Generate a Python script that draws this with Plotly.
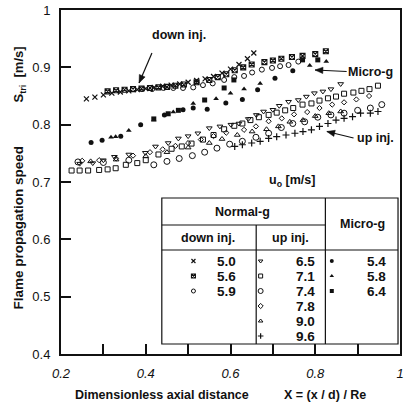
import math
import plotly.graph_objects as go

# ---------------- data ----------------
down_50_x = [0.26, 0.28, 0.30, 0.32, 0.34, 0.36, 0.38, 0.40, 0.42, 0.44, 0.46, 0.48, 0.50, 0.52, 0.54, 0.56, 0.58, 0.60, 0.62, 0.64, 0.655]
down_50_y = [0.845, 0.848, 0.852, 0.855, 0.857, 0.859, 0.861, 0.863, 0.865, 0.867, 0.869, 0.871, 0.874, 0.877, 0.880, 0.884, 0.890, 0.897, 0.905, 0.915, 0.925]

down_56_x = [0.31, 0.33, 0.35, 0.37, 0.39, 0.41, 0.43, 0.45, 0.47, 0.49, 0.52, 0.55, 0.57, 0.59, 0.61, 0.63, 0.65, 0.68, 0.70, 0.72, 0.745, 0.77, 0.80, 0.825]
down_56_y = [0.858, 0.860, 0.861, 0.862, 0.863, 0.864, 0.865, 0.866, 0.868, 0.870, 0.874, 0.878, 0.883, 0.888, 0.895, 0.900, 0.905, 0.909, 0.912, 0.915, 0.918, 0.920, 0.923, 0.928]

down_59_x = [0.391, 0.415, 0.442, 0.465, 0.488, 0.512, 0.535, 0.558, 0.585, 0.609, 0.632, 0.651, 0.674, 0.698, 0.717, 0.737, 0.760]
down_59_y = [0.862, 0.862, 0.864, 0.864, 0.864, 0.865, 0.869, 0.872, 0.878, 0.883, 0.885, 0.891, 0.896, 0.899, 0.902, 0.904, 0.910]

up_65_x = [0.244, 0.275, 0.300, 0.326, 0.360, 0.399, 0.423, 0.453, 0.477, 0.500, 0.523, 0.550, 0.575, 0.601, 0.620, 0.642, 0.661, 0.678, 0.700, 0.715, 0.737, 0.760, 0.779, 0.798, 0.818, 0.837, 0.860]
up_65_y = [0.732, 0.733, 0.738, 0.744, 0.748, 0.751, 0.762, 0.768, 0.776, 0.780, 0.785, 0.794, 0.797, 0.800, 0.802, 0.810, 0.817, 0.823, 0.826, 0.833, 0.840, 0.843, 0.849, 0.855, 0.858, 0.862, 0.871]

up_71_x = [0.225, 0.244, 0.264, 0.290, 0.310, 0.329, 0.353, 0.380, 0.400, 0.430, 0.461, 0.485, 0.508, 0.535, 0.560, 0.585, 0.609, 0.628, 0.647, 0.667, 0.690, 0.709, 0.729, 0.748, 0.770, 0.791, 0.810, 0.830, 0.849, 0.868, 0.890, 0.909, 0.928, 0.948]
up_71_y = [0.720, 0.720, 0.720, 0.721, 0.722, 0.724, 0.730, 0.733, 0.738, 0.748, 0.758, 0.762, 0.767, 0.774, 0.782, 0.792, 0.798, 0.802, 0.808, 0.813, 0.817, 0.821, 0.825, 0.829, 0.835, 0.837, 0.842, 0.846, 0.849, 0.854, 0.856, 0.859, 0.862, 0.868]

up_74_x = [0.240, 0.300, 0.360, 0.419, 0.450, 0.479, 0.510, 0.539, 0.568, 0.598, 0.628, 0.660, 0.690, 0.720, 0.747, 0.775, 0.806, 0.837, 0.868, 0.900, 0.930, 0.957]
up_74_y = [0.735, 0.734, 0.738, 0.730, 0.736, 0.741, 0.746, 0.752, 0.759, 0.766, 0.771, 0.778, 0.785, 0.795, 0.802, 0.805, 0.813, 0.817, 0.820, 0.825, 0.829, 0.835]

up_78_x = [0.250, 0.290, 0.330, 0.370, 0.410, 0.440, 0.470, 0.500, 0.530, 0.560, 0.590, 0.632, 0.660, 0.690, 0.721, 0.750, 0.781, 0.810, 0.840, 0.868, 0.897, 0.927]
up_78_y = [0.737, 0.738, 0.741, 0.746, 0.752, 0.757, 0.763, 0.768, 0.774, 0.780, 0.786, 0.791, 0.797, 0.806, 0.811, 0.818, 0.822, 0.829, 0.835, 0.839, 0.844, 0.850]

up_90_x = [0.270, 0.330, 0.400, 0.450, 0.500, 0.550, 0.580, 0.616, 0.651, 0.685, 0.713, 0.740, 0.771, 0.800, 0.832, 0.860]
up_90_y = [0.736, 0.739, 0.745, 0.752, 0.760, 0.768, 0.775, 0.782, 0.788, 0.792, 0.797, 0.805, 0.808, 0.815, 0.820, 0.823]

up_96_x = [0.610, 0.628, 0.650, 0.670, 0.690, 0.709, 0.731, 0.752, 0.771, 0.791, 0.810, 0.830, 0.849, 0.868, 0.888, 0.907, 0.930, 0.948]
up_96_y = [0.762, 0.765, 0.768, 0.771, 0.776, 0.779, 0.782, 0.785, 0.788, 0.791, 0.797, 0.802, 0.808, 0.811, 0.814, 0.820, 0.820, 0.823]

micro_54_x = [0.271, 0.297, 0.341, 0.388, 0.444, 0.488, 0.512, 0.545, 0.589, 0.628, 0.664, 0.705, 0.747]
micro_54_y = [0.769, 0.773, 0.780, 0.800, 0.817, 0.826, 0.829, 0.827, 0.838, 0.844, 0.861, 0.881, 0.894]

micro_58_x = [0.318, 0.329, 0.360, 0.419, 0.465, 0.512, 0.566, 0.600, 0.632, 0.670, 0.787, 0.826]
micro_58_y = [0.778, 0.779, 0.790, 0.808, 0.822, 0.837, 0.845, 0.855, 0.862, 0.872, 0.903, 0.910]

micro_64_x = [0.419, 0.453, 0.477, 0.539, 0.585, 0.608, 0.770, 0.806]
micro_64_y = [0.810, 0.819, 0.825, 0.843, 0.864, 0.878, 0.913, 0.913]

x_ticks = [0.2, 0.4, 0.6, 0.8, 1.0]
x_tick_text = ["0.2", "0.4", "0.6", "0.8", "1"]
y_ticks = [0.4, 0.5, 0.6, 0.7, 0.8, 0.9, 1.0]
y_tick_text = ["0.4", "0.5", "0.6", "0.7", "0.8", "0.9", "1"]

down_labels = ["5.0", "5.6", "5.9"]
up_labels = ["6.5", "7.1", "7.4", "7.8", "9.0", "9.6"]
micro_labels = ["5.4", "5.8", "6.4"]

# ---------------- styling ----------------
W, H = 404, 417
ML, MR, MT, MB = 61, 0, 10, 63
PW, PH = W - ML - MR, H - MT - MB
XR = [0.2, 1.0]
YR = [0.4, 1.0]
FONT = "Liberation Sans, Arial, sans-serif"
BLACK = "#111111"


def px(xp):
    return (xp - ML) / PW


def py(yp):
    return (H - MB - yp) / PH


def dx(xp):
    return XR[0] + px(xp) * (XR[1] - XR[0])


def dy(yp):
    return YR[0] + py(yp) * (YR[1] - YR[0])


series = [
    (down_50_x, down_50_y, "x-thin-open", 5, 1.2),
    (down_56_x, down_56_y, "square-x-open", 5, 1.1),
    (down_59_x, down_59_y, "circle-open", 5, 1.0),
    (up_65_x, up_65_y, "triangle-down-open", 5, 1.0),
    (up_71_x, up_71_y, "square-open", 5, 1.0),
    (up_74_x, up_74_y, "circle-open", 6, 1.0),
    (up_78_x, up_78_y, "diamond-open", 4, 1.0),
    (up_90_x, up_90_y, "triangle-up-open", 5, 1.0),
    (up_96_x, up_96_y, "cross-thin-open", 5, 1.2),
    (micro_54_x, micro_54_y, "circle", 5, 0),
    (micro_58_x, micro_58_y, "triangle-up", 5, 0),
    (micro_64_x, micro_64_y, "square", 5, 0),
]

fig = go.Figure()
for xs, ys, sym, sz, lw in series:
    fig.add_trace(go.Scatter(
        x=xs, y=ys, mode="markers", showlegend=False, hoverinfo="skip",
        marker=dict(symbol=sym, size=sz, color=BLACK,
                    line=dict(color=BLACK, width=lw)),
    ))

# ---------------- legend table (drawn in pixel positions) ----------------
tx0, tx1 = px(163), px(402)
tv1, tv2 = px(258.5), px(328.5)
ty_top, ty_h1, ty_h2, ty_bot = py(198), py(225), py(250), py(344)

shapes = []
line = dict(color=BLACK, width=1.2)
shapes.append(dict(type="rect", xref="paper", yref="paper", x0=tx0, x1=tx1,
                   y0=ty_bot, y1=ty_top, line=line, fillcolor="white", layer="below"))
shapes.append(dict(type="line", xref="paper", yref="paper", x0=tx0, x1=tv2,
                   y0=ty_h1, y1=ty_h1, line=line, layer="above"))
shapes.append(dict(type="line", xref="paper", yref="paper", x0=tx0, x1=tx1,
                   y0=ty_h2, y1=ty_h2, line=line, layer="above"))
shapes.append(dict(type="line", xref="paper", yref="paper", x0=tv1, x1=tv1,
                   y0=ty_bot, y1=ty_h1, line=line, layer="above"))
shapes.append(dict(type="line", xref="paper", yref="paper", x0=tv2, x1=tv2,
                   y0=ty_bot, y1=ty_top, line=line, layer="above"))

ann = []


def text(xp, yp, s, size=12.5, bold=True, **kw):
    ann.append(dict(xref="paper", yref="paper", x=px(xp), y=py(yp), text=s,
                    showarrow=False, xanchor=kw.pop("xanchor", "center"),
                    yanchor=kw.pop("yanchor", "middle"),
                    font=dict(family=FONT, size=size, color=BLACK,
                              weight="bold" if bold else "normal"), **kw))


text(245, 212, "Normal-g", 12.5)
text(366, 224, "Micro-g", 12.5)
text(210, 238, "down inj.", 12.5)
text(293, 238, "up inj.", 12.5)

row0, drow = 261, 15
groups = [
    (down_labels, series[0:3], 195, 228),
    (up_labels, series[3:9], 263, 308),
    (micro_labels, series[9:12], 335, 380),
]
for labels, sers, sym_x, num_x in groups:
    for i, lab in enumerate(labels):
        yp = row0 + i * drow
        text(num_x, yp, lab, 13.5)
        _, _, sym, sz, lw = sers[i]
        fig.add_trace(go.Scatter(
            x=[dx(sym_x)], y=[dy(yp)], mode="markers",
            showlegend=False, hoverinfo="skip",
            marker=dict(symbol=sym, size=max(sz - 1, 4), color=BLACK,
                        line=dict(color=BLACK, width=lw)),
        ))

# ---------------- annotations / arrows ----------------
text(180, 35, "down inj.", 12.5)
text(374, 72, "Micro-g", 12.5)
text(379, 138, "up inj.", 12.5)
text(295, 181, "u<sub>o</sub> [m/s]", 12.5)


def arrow(x_tail, y_tail, x_head, y_head, head_len=8, head_w=3.2):
    shapes.append(dict(type="line", xref="paper", yref="paper",
                       x0=px(x_tail), y0=py(y_tail), x1=px(x_head), y1=py(y_head),
                       line=dict(color=BLACK, width=1.2), layer="above"))
    ddx, ddy = x_head - x_tail, y_head - y_tail
    L = math.hypot(ddx, ddy)
    ux, uy = ddx / L, ddy / L
    bx, by = x_head - ux * head_len, y_head - uy * head_len
    nx, ny = -uy, ux
    p1 = (bx + nx * head_w, by + ny * head_w)
    p2 = (bx - nx * head_w, by - ny * head_w)
    path = "M {} {} L {} {} L {} {} Z".format(
        px(x_head), py(y_head), px(p1[0]), py(p1[1]), px(p2[0]), py(p2[1]))
    shapes.append(dict(type="path", xref="paper", yref="paper", path=path,
                       fillcolor=BLACK, line=dict(color=BLACK, width=0.5), layer="above"))


arrow(153, 53, 140, 83)
arrow(350, 71.5, 318, 70)
arrow(357, 138, 330, 131.5)

# axis titles
ann.append(dict(xref="paper", yref="paper", x=px(17), y=py(228), text="Flame propagation speed",
                textangle=-90, showarrow=False, xanchor="center", yanchor="middle",
                font=dict(family=FONT, size=13.5, color=BLACK, weight="bold")))
ann.append(dict(xref="paper", yref="paper", x=px(19), y=py(74), text="S<sub>tri</sub>  [m/s]",
                textangle=-90, showarrow=False, xanchor="center", yanchor="middle",
                font=dict(family=FONT, size=13, color=BLACK, weight="bold")))
text(163, 395, "Dimensionless axial distance", 12.5)
text(328, 395, "X = (x / d) / Re", 12.5)

fig.update_layout(
    width=W, height=H, margin=dict(l=ML, r=MR, t=MT, b=MB),
    paper_bgcolor="white", plot_bgcolor="white",
    shapes=shapes, annotations=ann,
    xaxis=dict(range=XR, tickvals=x_ticks, ticktext=x_tick_text,
               ticks="inside", ticklen=10, tickwidth=1.5, tickcolor=BLACK,
               minor=dict(dtick=0.1, tick0=0.2, ticks="inside", ticklen=10, tickwidth=1.5, tickcolor=BLACK),
               showline=True, linecolor=BLACK, linewidth=2, mirror=True,
               showgrid=False, zeroline=False, ticklabeloverflow="allow",
               ticklabelstandoff=6,
               tickfont=dict(family=FONT, size=13, color=BLACK, style="italic")),
    yaxis=dict(range=YR, tickvals=y_ticks, ticktext=y_tick_text,
               ticks="inside", ticklen=10, tickwidth=1.5, tickcolor=BLACK,
               showline=True, linecolor=BLACK, linewidth=2, mirror=True,
               showgrid=False, zeroline=False, ticklabelstandoff=6,
               tickfont=dict(family=FONT, size=13, color=BLACK)),
)

fig.write_html("out.html")
